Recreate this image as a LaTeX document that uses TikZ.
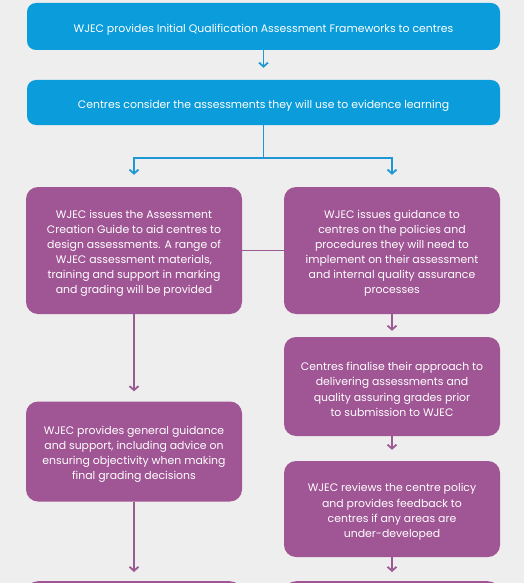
\documentclass[tikz,border=0pt]{standalone}
\usepackage{fontspec}
\setmainfont{Poppins}
\usetikzlibrary{positioning,arrows.meta}
\definecolor{wjecblue}{HTML}{0A9CDB}
\definecolor{wjecpurple}{HTML}{A05594}
\definecolor{linkblue}{HTML}{1E98D4}
\definecolor{linkpurple}{HTML}{9B5A92}
\definecolor{paper}{HTML}{EEEEEE}
\newcommand{\boxlead}{\rule{0pt}{14pt}}

\begin{document}
\begin{tikzpicture}[x=1pt, y=-1pt,
      every node/.style={font=\fontsize{10.9}{15.1}\selectfont, text=white, align=center, inner sep=0pt},
      bluebox/.style={fill=wjecblue, rounded corners=9pt, minimum width=473pt, execute at begin node=\boxlead},
      purplebox/.style={fill=wjecpurple, rounded corners=12pt, minimum width=216pt},
      bluelink/.style={draw=linkblue, line width=1.8pt, -{Straight Barb[length=4pt,width=9pt]}},
      purplelink/.style={draw=linkpurple, line width=1.8pt}
    ]
      \useasboundingbox (0,0) rectangle (524,583);
      \fill[paper] (0,0) rectangle (524,583);
      \clip (0,0) rectangle (524,583);

      \node[bluebox, minimum height=47pt] (frameworks) at (263.5,26.5) {WJEC provides Initial Qualification Assessment Frameworks to centres};
      \node[bluebox, minimum height=45pt] (consider) at (263.5,102.5) {Centres consider the assessments they will use to evidence learning};

      \node[purplebox, minimum height=127pt] (guide) at (134,250.5) {
        \boxlead WJEC issues the Assessment\\
        Creation Guide to aid centres to\\
        design assessments. A range of\\
        WJEC assessment materials,\\
        training and support in marking\\
        and grading will be provided
      };
      \node[purplebox, minimum height=127pt] (policy) at (392,250.5) {
        \boxlead WJEC issues guidance to\\
        centres on the policies and\\
        procedures they will need to\\
        implement on their assessment\\
        and internal quality assurance\\
        processes
      };
      \node[purplebox, minimum height=99pt] (finalise) at (392,386.5) {
        \boxlead Centres finalise their approach to\\
        delivering assessments and\\
        quality assuring grades prior\\
        to submission to WJEC
      };
      \node[purplebox, minimum height=96pt] (review) at (392,509) {
        \boxlead WJEC reviews the centre policy\\
        and provides feedback to\\
        centres if any areas are\\
        under-developed
      };
      \node[purplebox, minimum height=100pt] (support) at (134,451.5) {
        \boxlead WJEC provides general guidance\\
        and support, including advice on\\
        ensuring objectivity when making\\
        final grading decisions
      };
      % boxes cut off by the lower edge
      \node[purplebox, minimum height=60pt, anchor=north] (nextleft) at (134,581) {};
      \node[purplebox, minimum height=60pt, anchor=north] (nextright) at (392,581) {};

      \coordinate (split) at (263.5,158);
      \draw[bluelink, shorten >=12pt] (frameworks) -- (consider);
      \draw[bluelink, shorten >=12pt] (consider.south) -- (split) -| (guide.north);
      \draw[bluelink, shorten >=12pt] (consider.south) -- (split) -| (policy.north);

      \draw[purplelink] (guide.east) -- (policy.west);
      \draw[purplelink, -{Straight Barb[length=4pt,width=9pt]}, shorten >=10pt] (guide.south) -- (support.north);
      \draw[purplelink, -{Straight Barb[length=4pt,width=9pt]}, shorten >=6pt] (policy.south) -- (finalise.north);
      \draw[purplelink, -{Straight Barb[length=4pt,width=9pt]}, shorten >=11pt] (finalise.south) -- (review.north);
      \draw[purplelink, -{Straight Barb[length=4pt,width=9pt]}, shorten >=9pt] (review.south) -- (nextright.north);
      \draw[purplelink, -{Straight Barb[length=4pt,width=9pt]}, shorten >=9pt] (support.south) -- (nextleft.north);
    \end{tikzpicture}
\end{document}
